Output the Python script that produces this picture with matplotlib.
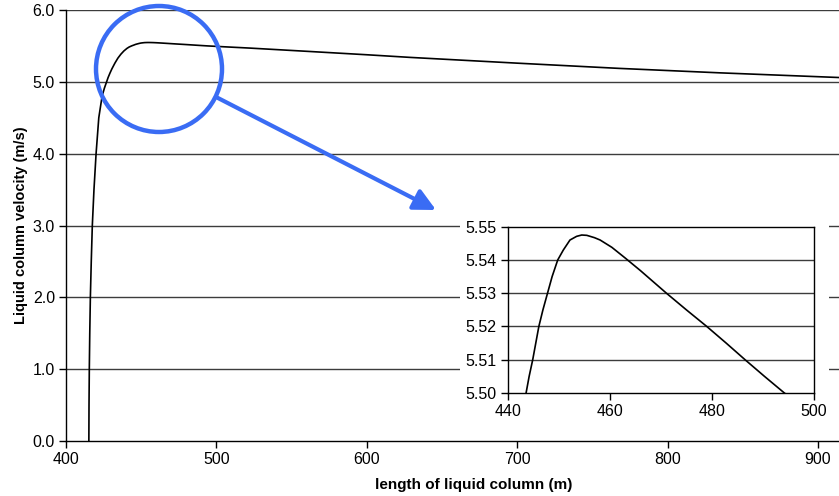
import matplotlib
matplotlib.use("Agg")
import matplotlib.pyplot as plt
from matplotlib.patches import Ellipse, FancyArrowPatch, Rectangle

plt.rcParams['font.family'] = ['Liberation Sans', 'DejaVu Sans']

# liquid column length (m) and velocity (m/s)
length_m = [415.2, 415.3, 415.5, 415.8, 416.2, 416.8, 417.5, 418.6, 420.0,
            421.8, 424.0, 425.5, 427.0, 428.0, 429.2, 430.5, 432.5, 434.5,
            436.5, 438.5, 440.5, 442.0, 443.6, 444.2, 444.9, 445.5, 446.1,
            446.9, 447.8, 448.7, 449.8, 450.9, 452.2, 453.5, 454.5, 455.5,
            457.0, 458.1, 460.4, 463.0, 466.0, 471.1, 475.0, 479.0, 482.8,
            486.5, 490.3, 494.2, 505.0, 522.0, 560.0, 600.0, 629.0, 700.0,
            768.0, 835.0, 914.0]
velocity = [0.0, 0.5, 1.0, 1.5, 2.0, 2.5, 3.0, 3.5, 4.0,
            4.5, 4.8, 4.91, 5.0, 5.06, 5.12, 5.18, 5.26, 5.33,
            5.385, 5.43, 5.465, 5.485, 5.500, 5.505, 5.510, 5.515, 5.520,
            5.525, 5.530, 5.535, 5.540, 5.543, 5.546, 5.5471, 5.5475, 5.5474,
            5.5467, 5.5460, 5.5438, 5.5406, 5.5368, 5.530, 5.525, 5.520, 5.515,
            5.510, 5.505, 5.500, 5.488, 5.470, 5.425, 5.377, 5.340, 5.260,
            5.187, 5.125, 5.060]

main_xticks = [400, 500, 600, 700, 800, 900]
main_yticks = [0.0, 1.0, 2.0, 3.0, 4.0, 5.0, 6.0]
inset_xticks = [440, 460, 480, 500]
inset_yticks = [5.50, 5.51, 5.52, 5.53, 5.54, 5.55]

W, H = 839, 496
BLUE = '#3a6cf4'


def fx(px):
    return px / W


def fy(py):
    return 1 - py / H


fig = plt.figure(figsize=(W / 100, H / 100), dpi=100)

ax = fig.add_axes([fx(66), fy(441), 1 - fx(66), fy(10) - fy(441)])
ax.plot(length_m, velocity, color='black', lw=1.2)
ax.set_xlim(400, 914)
ax.set_ylim(0, 6)
ax.set_xticks(main_xticks)
ax.set_yticks(main_yticks)
ax.set_xticklabels([str(t) for t in main_xticks])
ax.set_yticklabels([f"{t:.1f}" for t in main_yticks])
for y in main_yticks[1:]:
    ax.axhline(y, color='#3c3c3c', lw=1.0, zorder=0)
for s in ['top', 'right']:
    ax.spines[s].set_visible(False)
ax.spines['left'].set_linewidth(1.0)
ax.spines['bottom'].set_linewidth(1.0)
ax.tick_params(direction='out', length=5, width=1.0, labelsize=11.5, pad=3)
ax.set_ylabel('Liquid column velocity (m/s)', fontsize=10.5,
              fontweight='bold', labelpad=3)
fig.text(fx(474), fy(485), 'length of liquid column (m)', fontsize=11,
         fontweight='bold', ha='center', va='center')

# white backing for the inset and its labels
fig.patches.append(Rectangle((fx(460), fy(425)), fx(829) - fx(460),
                             fy(216) - fy(425), transform=fig.transFigure,
                             facecolor='white', edgecolor='none', zorder=2))

ins = fig.add_axes([fx(507.7), fy(393), fx(814) - fx(507.7),
                    fy(226.7) - fy(393)], zorder=3)
ins.plot(length_m, velocity, color='black', lw=1.2)
ins.set_xlim(440, 500)
ins.set_ylim(5.50, 5.55)
ins.set_xticks(inset_xticks)
ins.set_yticks(inset_yticks)
ins.set_yticklabels([f"{t:.2f}" for t in inset_yticks])
for y in inset_yticks[1:-1]:
    ins.axhline(y, color='#3c3c3c', lw=1.0, zorder=0)
for s in ins.spines.values():
    s.set_linewidth(1.0)
ins.tick_params(direction='out', length=5, width=1.0, labelsize=11.5, pad=3)

# blue circle and arrow
fig.patches.append(Ellipse((fx(159), fy(69)), 2 * 63 / W, 2 * 63 / H,
                           transform=fig.transFigure, fill=False,
                           edgecolor=BLUE, lw=3.2, zorder=5))
fig.patches.append(FancyArrowPatch((fx(216), fy(97)), (fx(436), fy(210)),
                                   transform=fig.transFigure,
                                   arrowstyle='-|>,head_length=0.6,head_width=0.3',
                                   mutation_scale=22,
                                   color=BLUE, lw=3.0, shrinkA=0, shrinkB=0,
                                   zorder=5))

fig.savefig('out.png', dpi=100)
